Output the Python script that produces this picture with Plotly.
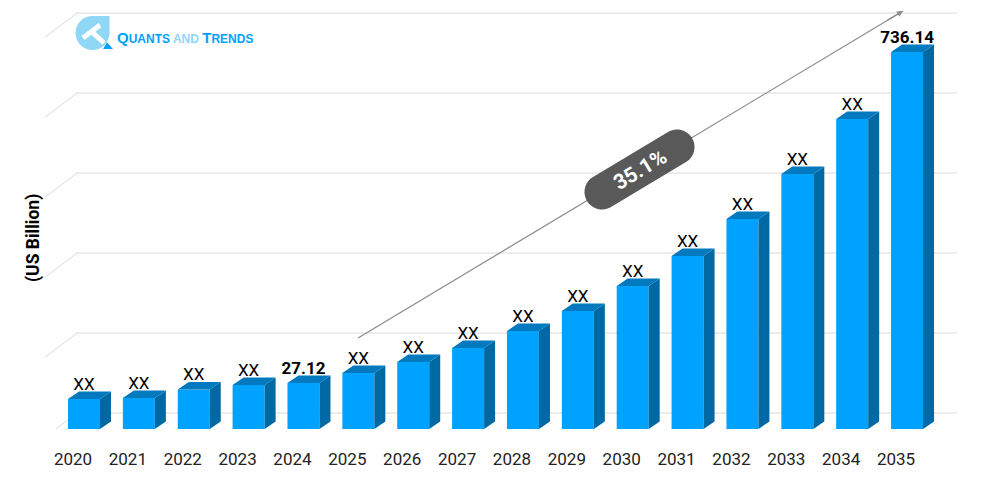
import math
import plotly.graph_objects as go

years = [2020, 2021, 2022, 2023, 2024, 2025, 2026, 2027, 2028, 2029, 2030, 2031, 2032, 2033, 2034, 2035]
drawn_values = [58.6, 60.5, 77.1, 85.9, 89.8, 109.3, 130.8, 158.2, 191.4, 230.4, 279.2, 337.8, 410.0, 497.9, 605.3, 736.14]
value_labels = ["XX", "XX", "XX", "XX", "27.12", "XX", "XX", "XX", "XX", "XX", "XX", "XX", "XX", "XX", "XX", "736.14"]
grid_values = [31.2, 187.4, 343.6, 499.8, 656.0, 812.2]

W, H, BASE = 1000, 482, 429
STEP = 54.87
K = 736.14 / 377
X0 = 73


def xd(px):
    return 2020 + (px - X0) / STEP


def yd(py):
    return (BASE - py) * K


def xp(px):
    return px / W


def yp(py):
    return 1 - py / BASE


BAR_W = 32 / STEP
BAR_OFF = -5 / STEP
DX = 11 / STEP
DY = 7.5 * K
LABEL_DROP = 2.5 * K

FRONT, SIDE, TOP = "#00a2ff", "#0069a3", "#0079bf"
GRID = "#d9d9d9"
FONT = "Roboto, sans-serif"

fig = go.Figure()
fig.add_trace(go.Bar(x=years, y=drawn_values, width=BAR_W, offset=BAR_OFF,
                     marker=dict(color=FRONT, line=dict(width=0)), hoverinfo="skip"))

side_x, side_y, top_x, top_y = [], [], [], []
for yr, v in zip(years, drawn_values):
    l = yr + BAR_OFF
    r = l + BAR_W
    side_x += [r, r + DX, r + DX, r, r, None]
    side_y += [0, DY, v + DY, v, 0, None]
    top_x += [l, l + DX, r + DX, r, l, None]
    top_y += [v, v + DY, v + DY, v, v, None]
for xs, ys, c in ((side_x, side_y, SIDE), (top_x, top_y, TOP)):
    fig.add_trace(go.Scatter(x=xs, y=ys, mode="lines", fill="toself", fillcolor=c,
                             line=dict(width=0, color=c), hoverinfo="skip"))

fig.add_trace(go.Scatter(
    x=[y + BAR_OFF + BAR_W / 2 for y in years],
    y=[v + DY - LABEL_DROP for v in drawn_values],
    mode="text", text=[f"<b>{t}</b>" if t != "XX" else t for t in value_labels],
    textposition="top center",
    textfont=dict(family=FONT, size=17, color="#000000"),
    hoverinfo="skip"))

shapes = []
for g in grid_values:
    gy = g
    shapes.append(dict(type="line", layer="below", xref="x", yref="y", x0=xd(77), x1=xd(957), y0=gy, y1=gy,
                       line=dict(color=GRID, width=1)))
    shapes.append(dict(type="line", layer="below", xref="x", yref="y", x0=xd(45), x1=xd(77), y0=gy - 24 * K, y1=gy,
                       line=dict(color=GRID, width=1)))


def poly(points):
    return "M " + " L ".join(f"{xp(a):.5f},{yp(b):.5f}" for a, b in points) + " Z"


# growth arrow and pill
A0, A1 = (358, 338), (903, 11)
shapes.append(dict(type="line", xref="paper", yref="paper", x0=xp(A0[0]), y0=yp(A0[1]), x1=xp(A1[0]), y1=yp(A1[1]),
                   line=dict(color="#8c8c8c", width=1.2)))
pill_a, pill_b, pill_r = (602, 192), (677, 147), 17.5
ang = math.atan2(pill_b[1] - pill_a[1], pill_b[0] - pill_a[0])
pts = []
for i in range(25):
    t = ang - math.pi / 2 + math.pi * i / 24
    pts.append((pill_b[0] + pill_r * math.cos(t), pill_b[1] + pill_r * math.sin(t)))
for i in range(25):
    t = ang + math.pi / 2 + math.pi * i / 24
    pts.append((pill_a[0] + pill_r * math.cos(t), pill_a[1] + pill_r * math.sin(t)))
shapes.append(dict(type="path", xref="paper", yref="paper", path=poly(pts), fillcolor="#595959",
                   line=dict(width=0)))

# logo
c, r = (92.5, 33), 17
drop = [(c[0] + r * math.cos(math.radians(a)), c[1] + r * math.sin(math.radians(a))) for a in range(0, 271, 10)]
drop.append((109.5, 16))
shapes.append(dict(type="path", xref="paper", yref="paper", path=poly(drop), fillcolor="#8fd6f7", line=dict(width=0)))
for a, b in (((83, 38), (100, 25)), ((91.5, 31.5), (104, 43))):
    shapes.append(dict(type="line", xref="paper", yref="paper", x0=xp(a[0]), y0=yp(a[1]), x1=xp(b[0]), y1=yp(b[1]),
                       line=dict(color="white", width=5)))
shapes.append(dict(type="path", xref="paper", yref="paper", path=poly([(103, 49), (113, 49), (107, 42.5)]),
                   fillcolor="#00a2ff", line=dict(width=0)))

LOGO = "Liberation Sans, Arial, sans-serif"
annotations = [
    dict(x=xp(A1[0]), y=yp(A1[1]), xref="paper", yref="paper", ax=-17, ay=10, axref="pixel", ayref="pixel",
         text="", showarrow=True, arrowhead=2, arrowsize=1, arrowwidth=1.2, arrowcolor="#8c8c8c"),
    dict(x=xp(639.5), y=yp(169.5), xref="paper", yref="paper", xanchor="center", yanchor="middle",
         text="<b>35.1%</b>", showarrow=False,
         textangle=-31, font=dict(family=FONT, size=21, color="white")),
    dict(x=xp(33), y=yp(238), xref="paper", yref="paper", xanchor="center", yanchor="middle",
         text="<b>(US Billion)</b>", showarrow=False,
         textangle=-90, font=dict(family=FONT, size=17.5, color="#000000")),
    dict(x=xp(115), y=yp(37.5), xref="paper", yref="paper", xanchor="left", yanchor="middle", showarrow=False,
         text="<b><span style='font-size:15px'>Q</span>UANTS "
              "<span style='color:#8fd6f7'>AND</span> "
              "<span style='font-size:15px'>T</span>RENDS</b>",
         font=dict(family=LOGO, size=12, color="#00a2ff")),
]

fig.update_layout(
    width=W, height=H, autosize=False, showlegend=False,
    margin=dict(l=0, r=0, t=0, b=H - BASE, pad=0),
    paper_bgcolor="white", plot_bgcolor="white",
    shapes=shapes, annotations=annotations,
    xaxis=dict(range=[xd(0), xd(W)], tickmode="array", tickvals=years, ticktext=[str(y) for y in years],
               showgrid=False, zeroline=False, showline=False, ticks="", ticklabelstandoff=18,
               tickfont=dict(family=FONT, size=17, color="#222222"), fixedrange=True),
    yaxis=dict(range=[0, yd(0)], visible=False, showgrid=False, zeroline=False, fixedrange=True),
)
fig.write_html("out.html", config={"displayModeBar": False},
               post_script="document.body.style.margin='0';document.documentElement.style.overflow='hidden';")
